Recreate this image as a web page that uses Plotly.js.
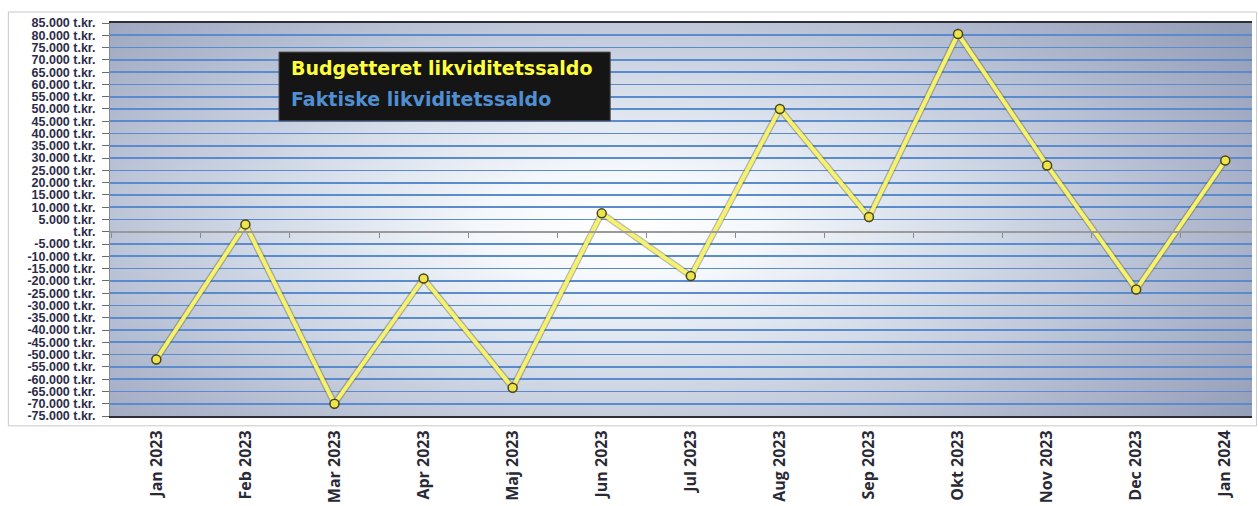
<!DOCTYPE html>
<html>
<head>
<meta charset="utf-8">
<script src="https://cdn.plot.ly/plotly-3.0.1.min.js"></script>
<style>
html,body{margin:0;padding:0;background:#fff;}
#chart{width:1258px;height:506px;}
</style>
</head>
<body>
<div id="chart"></div>
<script>
// ---- data ----
const months = ["Jan 2023","Feb 2023","Mar 2023","Apr 2023","Maj 2023","Jun 2023","Jul 2023","Aug 2023","Sep 2023","Okt 2023","Nov 2023","Dec 2023","Jan 2024"];
const budget = [-52000, 3000, -70000, -19000, -63500, 7500, -18000, 50000, 6000, 80500, 27000, -23500, 29000];
const seriesNames = ["Budgetteret likviditetssaldo", "Faktiske likviditetssaldo"];
const yTickVals = [85000,80000,75000,70000,65000,60000,55000,50000,45000,40000,35000,30000,25000,20000,15000,10000,5000,0,-5000,-10000,-15000,-20000,-25000,-30000,-35000,-40000,-45000,-50000,-55000,-60000,-65000,-70000,-75000];
const yTickText = ["85.000 t.kr.","80.000 t.kr.","75.000 t.kr.","70.000 t.kr.","65.000 t.kr.","60.000 t.kr.","55.000 t.kr.","50.000 t.kr.","45.000 t.kr.","40.000 t.kr.","35.000 t.kr.","30.000 t.kr.","25.000 t.kr.","20.000 t.kr.","15.000 t.kr.","10.000 t.kr.","5.000 t.kr."," t.kr.","-5.000 t.kr.","-10.000 t.kr.","-15.000 t.kr.","-20.000 t.kr.","-25.000 t.kr.","-30.000 t.kr.","-35.000 t.kr.","-40.000 t.kr.","-45.000 t.kr.","-50.000 t.kr.","-55.000 t.kr.","-60.000 t.kr.","-65.000 t.kr.","-70.000 t.kr.","-75.000 t.kr."];
const yMin = -75000, yMax = 85000;

// ---- background gradient image ----
function makeBg(){
  const w = 1142, h = 393;
  const c = document.createElement('canvas');
  c.width = w; c.height = h;
  const ctx = c.getContext('2d');
  ctx.fillStyle = '#939cb6';
  ctx.fillRect(0,0,w,h);
  ctx.save();
  ctx.translate(510, 205);
  ctx.scale(1, 0.42);
  const g = ctx.createRadialGradient(0,0,0,0,0,780);
  g.addColorStop(0, '#ffffff');
  g.addColorStop(0.18, '#f4f7fb');
  g.addColorStop(0.45, '#d3dbe8');
  g.addColorStop(0.75, '#b0b8ce');
  g.addColorStop(1, '#949db7');
  ctx.fillStyle = g;
  ctx.fillRect(-900, -1200, 1800, 2400);
  ctx.restore();
  return c.toDataURL('image/png');
}

const zeroPos = (0 - yMin) / (yMax - yMin);

const traces = [
  { // soft dark edge under the line
    x: months, y: budget, xaxis: 'x', yaxis: 'y', type: 'scatter', mode: 'lines',
    line: {color: 'rgba(95,95,50,0.4)', width: 6.5}, hoverinfo: 'skip', showlegend: false
  },
  {
    x: months, y: budget, xaxis: 'x', yaxis: 'y', type: 'scatter', mode: 'lines+markers',
    name: seriesNames[0],
    line: {color: '#f6f26c', width: 4},
    marker: {symbol: 'circle', size: 9, color: '#ece44a', line: {color: '#4a4420', width: 1.5}},
    showlegend: false
  },
  { // carrier for the zero-crossing category axis
    x: months, y: months.map(() => null), xaxis: 'x2', yaxis: 'y', type: 'scatter', mode: 'lines',
    hoverinfo: 'skip', showlegend: false
  }
];

const layout = {
  width: 1258, height: 506,
  margin: {l: 110, r: 6, t: 23, b: 90},
  paper_bgcolor: '#ffffff',
  plot_bgcolor: 'rgba(0,0,0,0)',
  showlegend: false,
  xaxis: {
    type: 'category', range: [-0.52, 12.3],
    tickangle: -90, ticks: '', showgrid: false,
    showline: true, mirror: true, linecolor: '#2e2e38', linewidth: 2,
    tickfont: {family: 'Open Sans', size: 16, color: '#2a2a36', weight: 'bold'},
    ticklabelstandoff: 6
  },
  xaxis2: {
    type: 'category', overlaying: 'x', anchor: 'free', position: zeroPos,
    range: [-0.52, 12.3], showline: true, linecolor: '#9a9a9e', linewidth: 2,
    ticks: 'outside', ticklen: 5, tickcolor: '#8a8a8e', tickson: 'boundaries',
    showticklabels: false, showgrid: false
  },
  yaxis: {
    range: [yMin, yMax], tickvals: yTickVals, ticktext: yTickText,
    showgrid: true, gridcolor: '#5a8bcc', gridwidth: 1.7, zeroline: false,
    showline: true, linecolor: '#8a8a8e', linewidth: 1,
    ticks: 'outside', ticklen: 7, tickcolor: '#6a6a70', ticklabelstandoff: 4,
    tickfont: {family: 'Liberation Sans', size: 12.5, color: '#2c2c4a', weight: 'bold'}
  },
  images: [{
    source: makeBg(), xref: 'paper', yref: 'paper', x: 0, y: 1, sizex: 1, sizey: 1,
    sizing: 'stretch', layer: 'below', xanchor: 'left', yanchor: 'top'
  }],
  shapes: [
    {type: 'rect', xref: 'paper', yref: 'paper', x0: 0.148, x1: 0.438, y0: 0.751, y1: 0.926,
     fillcolor: '#151515', line: {color: '#4a4a4a', width: 1}},
    {type: 'rect', xref: 'paper', yref: 'paper', x0: -0.089, x1: 1.004, y0: -0.025, y1: 1.028,
     fillcolor: 'rgba(0,0,0,0)', line: {color: '#c8c8cc', width: 1}, layer: 'below'}
  ],
  annotations: [
    {xref: 'paper', yref: 'paper', x: 0.157, y: 0.8855, xanchor: 'left', yanchor: 'middle',
     text: seriesNames[0], showarrow: false,
     font: {family: 'DejaVu Sans', size: 19, color: '#ffff3c', weight: 'bold'}},
    {xref: 'paper', yref: 'paper', x: 0.157, y: 0.8066, xanchor: 'left', yanchor: 'middle',
     text: seriesNames[1], showarrow: false,
     font: {family: 'DejaVu Sans', size: 19, color: '#4f8fd2', weight: 'bold'}}
  ]
};

Plotly.newPlot('chart', traces, layout, {displayModeBar: false, staticPlot: true});
</script>
</body>
</html>
